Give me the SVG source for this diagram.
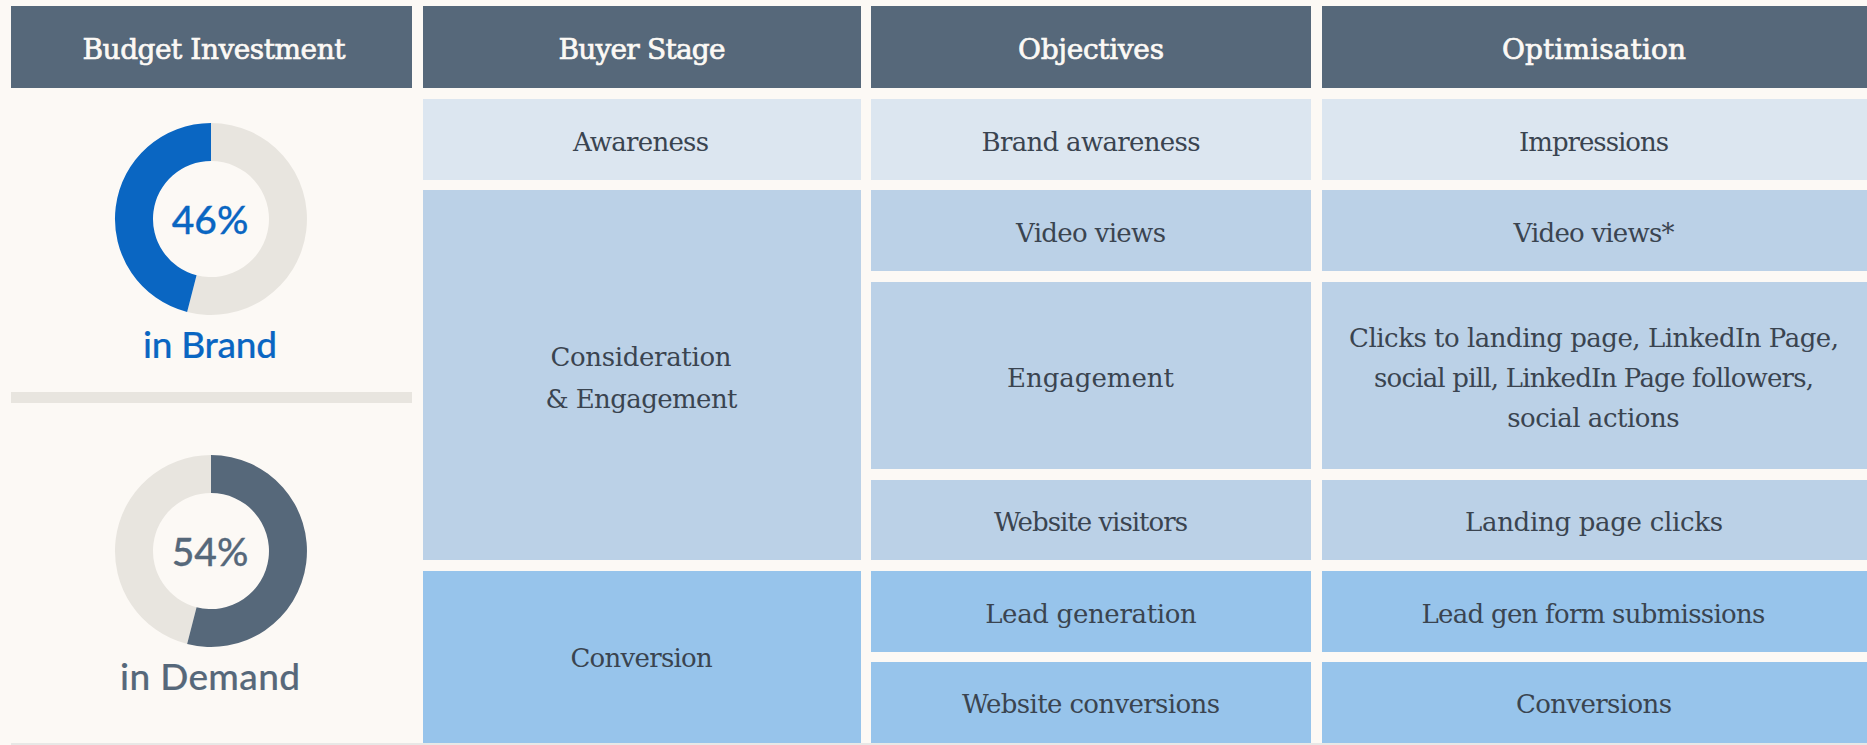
<svg xmlns="http://www.w3.org/2000/svg" width="1867" height="745" viewBox="0 0 1867 745">
<style>
.bg{fill:#FCF9F5}
.hd{fill:#56687A}
.r1{fill:#DCE6F0}
.r2{fill:#BBD1E7}
.r3{fill:#97C4EB}
.ht{font-family:"DejaVu Serif","Liberation Serif",serif;font-size:28px;fill:#FCF9F5;stroke:#FCF9F5;stroke-width:0.7px;text-anchor:middle}
.bt{font-family:"DejaVu Serif","Liberation Serif",serif;font-size:26px;fill:#3A4450;text-anchor:middle}
.pc{font-family:Lato,"Noto Sans",sans-serif;font-size:39px;font-weight:500;stroke-width:0.3px;text-anchor:middle}
.lb{font-family:Lato,"Noto Sans",sans-serif;font-size:37px;font-weight:500;stroke-width:0.2px;text-anchor:middle}
.ring{fill:#E8E5DF}
</style>
<rect class="bg" x="0" y="0" width="1867" height="745"/>

<g id="header-budget"><rect class="hd" x="11" y="6" width="401" height="82"/><text class="ht" x="214" y="59" textLength="263">Budget Investment</text></g>
<g id="header-buyer"><rect class="hd" x="423" y="6" width="438" height="82"/><text class="ht" x="642" y="59" textLength="167">Buyer Stage</text></g>
<g id="header-objectives"><rect class="hd" x="871" y="6" width="440" height="82"/><text class="ht" x="1091" y="59" textLength="146">Objectives</text></g>
<g id="header-optimisation"><rect class="hd" x="1322" y="6" width="545" height="82"/><text class="ht" x="1594" y="59" textLength="184">Optimisation</text></g>

<g id="donut-brand">
<path class="ring" d="M211,123 A96,96 0 1 1 187.12,311.99 L196.57,275.18 A58,58 0 1 0 211,161 Z"/>
<path fill="#0A66C2" d="M211,123 A96,96 0 0 0 187.12,311.99 L196.57,275.18 A58,58 0 0 1 211,161 Z"/>
<text class="pc" x="210" y="234" fill="#0A66C2" stroke="#0A66C2">46%</text>
<text class="lb" x="210" y="358" fill="#0A66C2" stroke="#0A66C2" textLength="134">in Brand</text>
</g>
<rect id="separator" x="11" y="392" width="401" height="11" fill="#E8E5DF"/>
<g id="donut-demand">
<path class="ring" d="M211,455 A96,96 0 0 0 187.12,643.99 L196.57,607.18 A58,58 0 0 1 211,493 Z"/>
<path fill="#56687A" d="M211,455 A96,96 0 1 1 187.12,643.99 L196.57,607.18 A58,58 0 1 0 211,493 Z"/>
<text class="pc" x="210" y="566" fill="#56687A" stroke="#56687A">54%</text>
<text class="lb" x="210" y="690" fill="#56687A" stroke="#56687A" textLength="180">in Demand</text>
</g>

<g id="stage-awareness"><rect class="r1" x="423" y="99" width="438" height="81"/><text class="bt" x="641" y="151" textLength="136">Awareness</text></g>
<g id="obj-brand-awareness"><rect class="r1" x="871" y="99" width="440" height="81"/><text class="bt" x="1091" y="151" textLength="219">Brand awareness</text></g>
<g id="opt-impressions"><rect class="r1" x="1322" y="99" width="545" height="81"/><text class="bt" x="1594" y="151" textLength="150">Impressions</text></g>

<g id="stage-consideration"><rect class="r2" x="423" y="190" width="438" height="370"/><text class="bt" x="641" y="366" textLength="181">Consideration</text><text class="bt" x="641.5" y="407.5" textLength="192">&amp; Engagement</text></g>
<g id="obj-video-views"><rect class="r2" x="871" y="190" width="440" height="81"/><text class="bt" x="1091" y="242" textLength="150">Video views</text></g>
<g id="opt-video-views"><rect class="r2" x="1322" y="190" width="545" height="81"/><text class="bt" x="1594" y="242" textLength="161">Video views*</text></g>
<g id="obj-engagement"><rect class="r2" x="871" y="282" width="440" height="187"/><text class="bt" x="1090.5" y="386.5" textLength="167">Engagement</text></g>
<g id="opt-clicks"><rect class="r2" x="1322" y="282" width="545" height="187"/><text class="bt" x="1594" y="346.7" textLength="490">Clicks to landing page, LinkedIn Page,</text><text class="bt" x="1594" y="387.3" textLength="440">social pill, LinkedIn Page followers,</text><text class="bt" x="1593.4" y="426.7" textLength="172.5">social actions</text></g>
<g id="obj-website-visitors"><rect class="r2" x="871" y="480" width="440" height="80"/><text class="bt" x="1091" y="530.7" textLength="194">Website visitors</text></g>
<g id="opt-landing-clicks"><rect class="r2" x="1322" y="480" width="545" height="80"/><text class="bt" x="1594" y="530.7" textLength="258">Landing page clicks</text></g>

<g id="stage-conversion"><rect class="r3" x="423" y="571" width="438" height="172"/><text class="bt" x="641.6" y="667.3" textLength="142.4">Conversion</text></g>
<g id="obj-lead-gen"><rect class="r3" x="871" y="571" width="440" height="81"/><text class="bt" x="1091" y="622.7" textLength="211.6">Lead generation</text></g>
<g id="opt-lead-gen-form"><rect class="r3" x="1322" y="571" width="545" height="81"/><text class="bt" x="1593.4" y="622.7" textLength="343.8">Lead gen form submissions</text></g>
<g id="obj-website-conversions"><rect class="r3" x="871" y="662" width="440" height="81"/><text class="bt" x="1091" y="713.3" textLength="258">Website conversions</text></g>
<g id="opt-conversions"><rect class="r3" x="1322" y="662" width="545" height="81"/><text class="bt" x="1594" y="713.3" textLength="156">Conversions</text></g>

<line x1="11" y1="744" x2="1867" y2="744" stroke="#E2E2E0" stroke-width="1.5"/>
</svg>
